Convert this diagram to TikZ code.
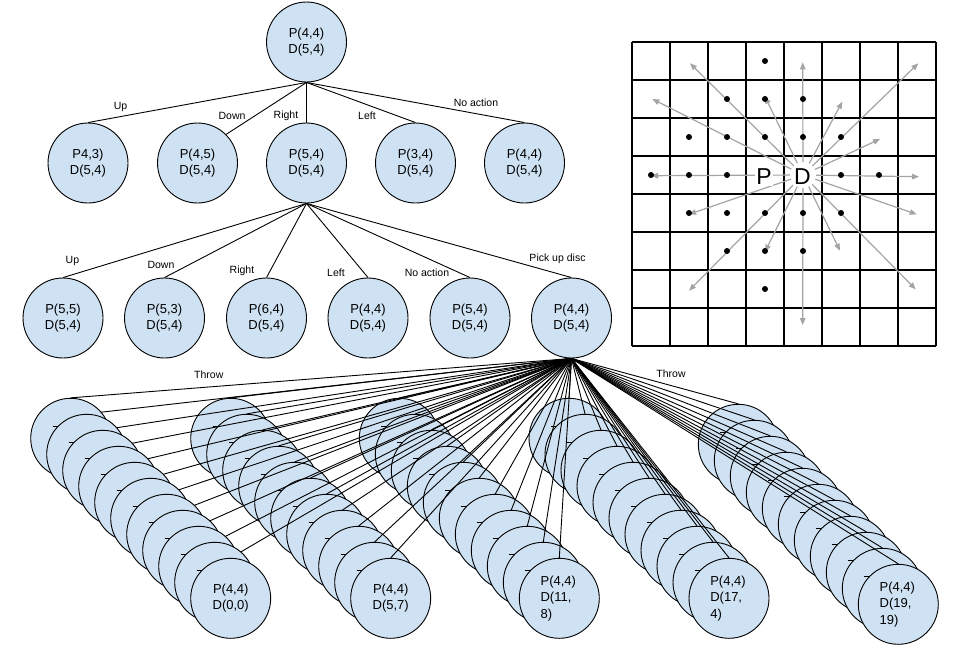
\documentclass[tikz,border=0pt]{standalone}
\usepackage{fontspec}
\setmainfont{Liberation Sans}
\usetikzlibrary{arrows.meta}
\pgfdeclarelayer{front}
\pgfsetlayers{main,front}
\definecolor{nodeblue}{HTML}{CFE2F3}
\definecolor{raygray}{HTML}{A4A4A4}
\begin{document}
\begin{tikzpicture}[x=1pt,y=-1pt,
  state/.style={circle, draw=black, line width=0.9pt, fill=nodeblue, minimum size=80pt, inner sep=0pt,
    font=\fontsize{13}{16.5}\selectfont, align=center},
  lstate/.style={state, align=left, text width=37.4pt},
  edge/.style={draw=black, line width=0.9pt},
  tickmark/.style={draw=black, line width=0.9pt},
  lbl/.style={font=\fontsize{10.5}{12}\selectfont, inner sep=0pt},
  gridline/.style={draw=black, line width=1.1pt},
  ray/.style={draw=raygray, line width=1.2pt, -{Triangle[length=7pt,width=5.5pt]}, shorten <=13pt},
  gdot/.style={circle, fill=black, inner sep=0pt, minimum size=6pt},
  bigletter/.style={font=\fontsize{23}{23}\selectfont, fill=white, inner sep=1pt},
]
\useasboundingbox (0,0) rectangle (960,646);
\fill[white] (0,0) rectangle (960,646);

% ---------- grid ----------
\fill[white] (632,42) rectangle (936,346);
\foreach \i in {0,...,8} {
  \draw[gridline] ({632+38*\i},42) -- ({632+38*\i},346);
  \draw[gridline] (632,{42+38*\i}) -- (936,{42+38*\i});
}
\coordinate (dc) at (803,175);
\foreach \n/\ex/\ey in {1/690/63.3, 2/652.3/99, 3/765/96.7, 4/802.7/62.3, 5/842.3/101.7, 6/918.3/63.3,
  7/880/139, 8/919/176.7, 9/916.7/214.3, 10/915.7/289.3, 11/840/250.7, 12/802.7/325,
  13/765/251.7, 14/689/290.7, 15/689/214.3, 16/651/175.7} {
  \coordinate (r\n) at (\ex,\ey);
  \draw[ray] (dc) -- (r\n);
}
\foreach \c/\r in {3/0, 2/1, 3/1, 4/1, 1/2, 2/2, 3/2, 4/2, 5/2, 0/3, 1/3, 2/3, 5/3, 6/3,
  1/4, 2/4, 3/4, 4/4, 5/4, 2/5, 3/5, 4/5, 3/6} {
  \node[gdot] (dot\c-\r) at ({651+38*\c},{61+38*\r}) {};
}
\node[bigletter] (pletter) at (764,176.7) {P};
\node[bigletter] (dletter) at (802.5,176.7) {D};

% ---------- tree ----------
\node[state] (root) at (306.5,42) {P(4,4)\\D(5,4)};
\node[state] (a1) at (88,163) {P4,3)\\D(5,4)};
\node[state] (a2) at (197.5,163) {P(4,5)\\D(5,4)};
\node[state] (a3) at (306.5,163) {P(5,4)\\D(5,4)};
\node[state] (a4) at (415.5,163) {P(3,4)\\D(5,4)};
\node[state] (a5) at (524.5,163) {P(4,4)\\D(5,4)};
\draw[edge] (root.south) -- (a1.north);
\draw[edge] (root.south) -- (a2.north east);
\draw[edge] (root.south) -- (a3.north);
\draw[edge] (root.south) -- (a4.north);
\draw[edge] (root.south) -- (a5.north);
\node[lbl] (la1) at (120.5,107) {Up};
\node[lbl] (la2) at (232,116) {Down};
\node[lbl] (la3) at (286,116) {Right};
\node[lbl] (la4) at (367,116) {Left};
\node[lbl] (la5) at (476,103) {No action};

\node[state] (b1) at (63,318) {P(5,5)\\D(5,4)};
\node[state] (b2) at (164.5,318) {P(5,3)\\D(5,4)};
\node[state] (b3) at (266.5,318) {P(6,4)\\D(5,4)};
\node[state] (b4) at (368,318) {P(4,4)\\D(5,4)};
\node[state] (b5) at (470,318) {P(5,4)\\D(5,4)};
\node[state] (b6) at (571.5,318) {P(4,4)\\D(5,4)};
\foreach \b in {1,...,6} { \draw[edge] (a3.south) -- (b\b.north); }
\node[lbl] (lb1) at (72.4,261) {Up};
\node[lbl] (lb2) at (161,265) {Down};
\node[lbl] (lb3) at (242,271) {Right};
\node[lbl] (lb4) at (336,272.7) {Left};
\node[lbl] (lb5) at (427,272.7) {No action};
\node[lbl] (lb6) at (557.5,259) {Pick up disc};

% ---------- stacks 5..2 ----------
\foreach \s/\x/\y in {5/738.3/444.3, 4/569/438.3, 3/399.3/438.3, 2/230.7/438.3} {
  \foreach \k in {0,...,9} {
    \node[state] (s\s-\k) at ({\x+16*\k},{\y+16*\k}) {};
    \ifnum\k>0 \draw[tickmark] ({\x+16*\k-34},{\y+16*\k-28}) -- ++(5,0); \fi
  }
  \ifnum\s=5 \node[lstate] (s\s-10) at ({\x+160},{\y+160}) {P(4,4)\\D(19,\\19)}; \fi
  \ifnum\s=4 \node[lstate] (s\s-10) at ({\x+160},{\y+160}) {P(4,4)\\D(17,\\4)}; \fi
  \ifnum\s=3 \node[lstate] (s\s-10) at ({\x+160},{\y+160}) {P(4,4)\\D(11,\\8)}; \fi
  \ifnum\s=2 \node[state] (s\s-10) at ({\x+160},{\y+160}) {P(4,4)\\D(5,7)}; \fi
  \draw[tickmark] ({\x+160-34},{\y+160-28}) -- ++(5,0);
}
\foreach \s in {2,...,5} {
  \foreach \k in {0,...,10} { \draw[edge] (b6.south) -- (s\s-\k.north); }
}

% ---------- stack 1 (in front of its own lines) ----------
\begin{pgfonlayer}{front}
\foreach \k in {0,...,9} {
  \node[state] (s1-\k) at ({70.7+16*\k},{438.3+16*\k}) {};
  \ifnum\k>0 \draw[tickmark] ({70.7+16*\k-34},{438.3+16*\k-28}) -- ++(5,0); \fi
}
\node[state] (s1-10) at (230.7,598.3) {P(4,4)\\D(0,0)};
\draw[tickmark] (196.7,570.3) -- ++(5,0);
\end{pgfonlayer}
\foreach \k in {0,...,10} { \draw[edge] (b6.south) -- (s1-\k.north); }

\node[lbl] (th1) at (208.8,374.7) {Throw};
\node[lbl] (th2) at (671,373.3) {Throw};
\end{tikzpicture}
\end{document}
